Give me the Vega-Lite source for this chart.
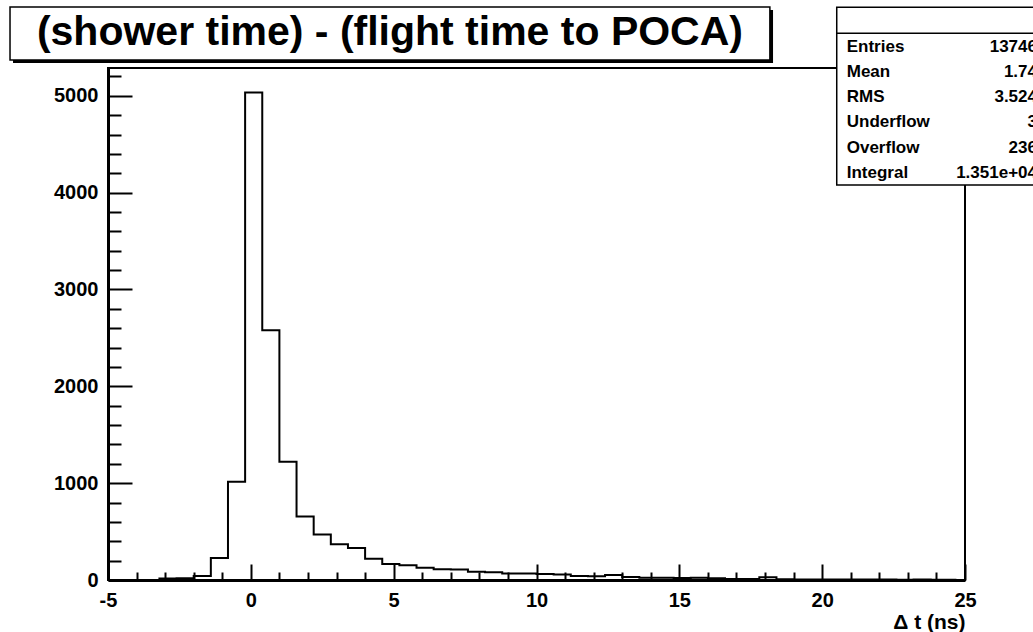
{
  "$schema": "https://vega.github.io/schema/vega-lite/v6.json",
  "width": 857,
  "height": 512,
  "autosize": {"type": "none"},
  "padding": {"left": 108, "top": 68, "right": 68, "bottom": 52},
  "background": "white",
  "config": {
    "view": {"stroke": "black", "strokeWidth": 2},
    "font": "Liberation Sans",
    "axis": {
      "labelFont": "Liberation Sans",
      "labelFontWeight": "bold",
      "labelFontSize": 20,
      "labelColor": "black",
      "titleColor": "black",
      "titleFont": "Liberation Sans",
      "domainColor": "black",
      "tickColor": "black",
      "grid": false
    }
  },
  "data": {
    "values": [
      {"dt": -4.7, "entries": 0}, {"dt": -4.1, "entries": 0}, {"dt": -3.5, "entries": 1},
      {"dt": -2.9, "entries": 15}, {"dt": -2.3, "entries": 18}, {"dt": -1.7, "entries": 42},
      {"dt": -1.1, "entries": 228}, {"dt": -0.5, "entries": 1015}, {"dt": 0.1, "entries": 5035},
      {"dt": 0.7, "entries": 2580}, {"dt": 1.3, "entries": 1220}, {"dt": 1.9, "entries": 655},
      {"dt": 2.5, "entries": 470}, {"dt": 3.1, "entries": 370}, {"dt": 3.7, "entries": 330},
      {"dt": 4.3, "entries": 220}, {"dt": 4.9, "entries": 166}, {"dt": 5.5, "entries": 152},
      {"dt": 6.1, "entries": 126}, {"dt": 6.7, "entries": 111}, {"dt": 7.3, "entries": 108},
      {"dt": 7.9, "entries": 84}, {"dt": 8.5, "entries": 80}, {"dt": 9.1, "entries": 68},
      {"dt": 9.7, "entries": 66}, {"dt": 10.3, "entries": 62}, {"dt": 10.9, "entries": 58},
      {"dt": 11.5, "entries": 42}, {"dt": 12.1, "entries": 38}, {"dt": 12.7, "entries": 52},
      {"dt": 13.3, "entries": 32}, {"dt": 13.9, "entries": 24}, {"dt": 14.5, "entries": 22},
      {"dt": 15.1, "entries": 20}, {"dt": 15.7, "entries": 22}, {"dt": 16.3, "entries": 18},
      {"dt": 16.9, "entries": 10}, {"dt": 17.5, "entries": 10}, {"dt": 18.1, "entries": 28},
      {"dt": 18.7, "entries": 8}, {"dt": 19.3, "entries": 6}, {"dt": 19.9, "entries": 5},
      {"dt": 20.5, "entries": 6}, {"dt": 21.1, "entries": 4}, {"dt": 21.7, "entries": 5},
      {"dt": 22.3, "entries": 4}, {"dt": 22.9, "entries": 3}, {"dt": 23.5, "entries": 4},
      {"dt": 24.1, "entries": 3}, {"dt": 24.7, "entries": 3}
    ]
  },
  "resolve": {"axis": {"x": "independent", "y": "independent"}},
  "layer": [
    {
      "mark": {"type": "line", "interpolate": "step", "stroke": "black", "strokeWidth": 2},
      "encoding": {
        "x": {
          "field": "dt", "type": "quantitative",
          "scale": {"domain": [-5, 25], "nice": false, "zero": false},
          "axis": {
            "orient": "bottom", "values": [-5, 0, 5, 10, 15, 20, 25],
            "labelExpr": "'' + datum.value",
            "tickSize": -16, "tickWidth": 2, "domainWidth": 3, "labelPadding": 26,
            "labelFlush": false, "labelOverlap": false,
            "title": "Δ t (ns)", "titleAnchor": "end", "titleFontSize": 21,
            "titleFontWeight": "bold", "titlePadding": 1
          }
        },
        "y": {
          "field": "entries", "type": "quantitative",
          "scale": {"domain": [0, 5287], "nice": false, "zero": true},
          "axis": {
            "orient": "left", "values": [0, 1000, 2000, 3000, 4000, 5000],
            "labelExpr": "'' + datum.value",
            "tickSize": -24, "tickWidth": 2, "domainWidth": 3, "labelPadding": 34,
            "labelOverlap": false, "title": null
          }
        }
      }
    },
    {
      "data": {"values": [{}]},
      "mark": {"type": "rect", "fill": "black"},
      "encoding": {
        "x": {
          "datum": -8.325, "type": "quantitative",
          "scale": {"domain": [-5, 25], "nice": false, "zero": false},
          "axis": {
            "orient": "bottom",
            "values": [-4, -3, -2, -1, 1, 2, 3, 4, 6, 7, 8, 9, 11, 12, 13, 14, 16, 17, 18, 19, 21, 22, 23, 24],
            "tickSize": -8, "tickWidth": 2, "labels": false, "domain": false, "title": null
          }
        },
        "x2": {"datum": 18.28},
        "y": {
          "datum": 5886, "type": "quantitative",
          "scale": {"domain": [0, 5287], "nice": false, "zero": true},
          "axis": {
            "orient": "left",
            "values": [200, 400, 600, 800, 1200, 1400, 1600, 1800, 2200, 2400, 2600, 2800, 3200, 3400, 3600, 3800, 4200, 4400, 4600, 4800, 5200],
            "tickSize": -13, "tickWidth": 2, "labels": false, "domain": false, "title": null
          }
        },
        "y2": {"datum": 5339}
      }
    },
    {
      "data": {"values": [{}]},
      "mark": {"type": "rect", "fill": "white", "stroke": "black", "strokeWidth": 1.5},
      "encoding": {
        "x": {"datum": -8.43, "type": "quantitative", "axis": null},
        "x2": {"datum": 18.17},
        "y": {"datum": 5917, "type": "quantitative", "axis": null},
        "y2": {"datum": 5370}
      }
    },
    {
      "data": {"values": [{}]},
      "mark": {
        "type": "text", "text": "(shower time) - (flight time to POCA)",
        "font": "Liberation Sans", "fontWeight": "bold", "fontSize": 41,
        "align": "center", "baseline": "middle", "color": "black"
      },
      "encoding": {
        "x": {"datum": 4.87, "type": "quantitative", "axis": null},
        "y": {"datum": 5648, "type": "quantitative", "axis": null}
      }
    },
    {
      "data": {"values": [{}]},
      "mark": {"type": "rect", "fill": "white", "stroke": "black", "strokeWidth": 1.5},
      "encoding": {
        "x": {"datum": 20.51, "type": "quantitative", "axis": null},
        "x2": {"datum": 27.9},
        "y": {"datum": 5914, "type": "quantitative", "axis": null},
        "y2": {"datum": 4079}
      }
    },
    {
      "data": {"values": [{}]},
      "mark": {"type": "rule", "stroke": "black", "strokeWidth": 1.5},
      "encoding": {
        "x": {"datum": 20.51, "type": "quantitative", "axis": null},
        "x2": {"datum": 27.9},
        "y": {"datum": 5645, "type": "quantitative", "axis": null}
      }
    },
    {
      "data": {"values": [{}]},
      "mark": {
        "type": "text",
        "text": ["Entries", "Mean", "RMS", "Underflow", "Overflow", "Integral"],
        "font": "Liberation Sans", "fontWeight": "bold", "fontSize": 17, "lineHeight": 25.26,
        "align": "left", "baseline": "middle", "color": "black"
      },
      "encoding": {
        "x": {"datum": 20.86, "type": "quantitative", "axis": null},
        "y": {"datum": 5507, "type": "quantitative", "axis": null}
      }
    },
    {
      "data": {"values": [{}]},
      "mark": {
        "type": "text",
        "text": ["13746", "1.74", "3.524", "3", "236", "1.351e+04"],
        "font": "Liberation Sans", "fontWeight": "bold", "fontSize": 17, "lineHeight": 25.26,
        "align": "right", "baseline": "middle", "color": "black"
      },
      "encoding": {
        "x": {"datum": 27.52, "type": "quantitative", "axis": null},
        "y": {"datum": 5507, "type": "quantitative", "axis": null}
      }
    }
  ]
}
